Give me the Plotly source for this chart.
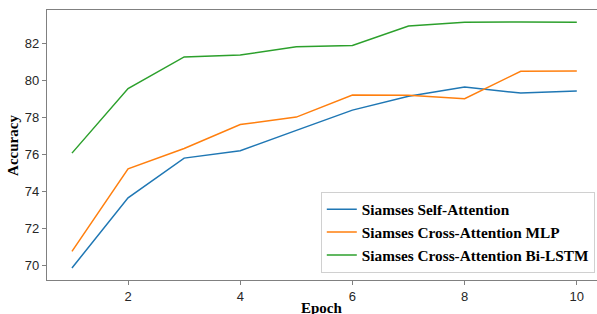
import plotly.graph_objects as go

epochs = [1, 2, 3, 4, 5, 6, 7, 8, 9, 10]
self_attention = [69.85, 73.65, 75.8, 76.2, 77.3, 78.4, 79.15, 79.65, 79.32, 79.43]
cross_attention_mlp = [70.75, 75.22, 76.32, 77.62, 78.02, 79.22, 79.2, 79.02, 80.5, 80.52]
cross_attention_bilstm = [76.07, 79.57, 81.28, 81.38, 81.83, 81.9, 82.95, 83.15, 83.17, 83.16]

series_names = ["Siamses Self-Attention", "Siamses Cross-Attention MLP", "Siamses Cross-Attention Bi-LSTM"]
series_colors = ["#1f77b4", "#ff7f0e", "#2ca02c"]
x_ticks = [2, 4, 6, 8, 10]
y_ticks = [70, 72, 74, 76, 78, 80, 82]

fig = go.Figure()
for name, vals, col in zip(series_names, [self_attention, cross_attention_mlp, cross_attention_bilstm], series_colors):
    fig.add_trace(go.Scatter(x=epochs, y=vals, mode="lines", name="<b>" + name + "</b>",
                             line=dict(color=col, width=1.5)))

axis_common = dict(showline=True, linecolor="#808080", linewidth=1.2, showgrid=False, zeroline=False,
                   ticks="outside", ticklen=4, tickcolor="#808080", automargin=False,
                   tickfont=dict(family="Liberation Sans", size=13, color="#262626"))

title_font = dict(family="Liberation Serif", size=15, color="black")

fig.update_layout(
    width=597, height=314,
    margin=dict(l=47, r=0, t=10, b=34),
    paper_bgcolor="white", plot_bgcolor="white",
    xaxis=dict(range=[0.555, 10.36], tickvals=x_ticks, mirror=True, **axis_common),
    yaxis=dict(range=[69.2, 83.82], tickvals=y_ticks, **axis_common),
    legend=dict(x=0.996, y=0.027, xanchor="right", yanchor="bottom",
                bgcolor="rgba(255,255,255,0.85)", bordercolor="#d0d0d0", borderwidth=1,
                font=dict(family="Liberation Serif", size=15.3, color="black"),
                itemwidth=30, tracegroupgap=0),
    showlegend=True,
    annotations=[
        dict(text="<b>Epoch</b>", xref="paper", yref="paper", x=0.5, y=-0.068,
             xanchor="center", yanchor="top", showarrow=False, font=title_font),
        dict(text="<b>Accuracy</b>", xref="paper", yref="paper", x=-0.062, y=0.5,
             xanchor="center", yanchor="middle", showarrow=False, textangle=-90, font=title_font),
    ],
)

fig.write_html("out.html", config={"displayModeBar": False},
               post_script="document.body.style.margin='0';document.body.style.overflow='hidden';")
